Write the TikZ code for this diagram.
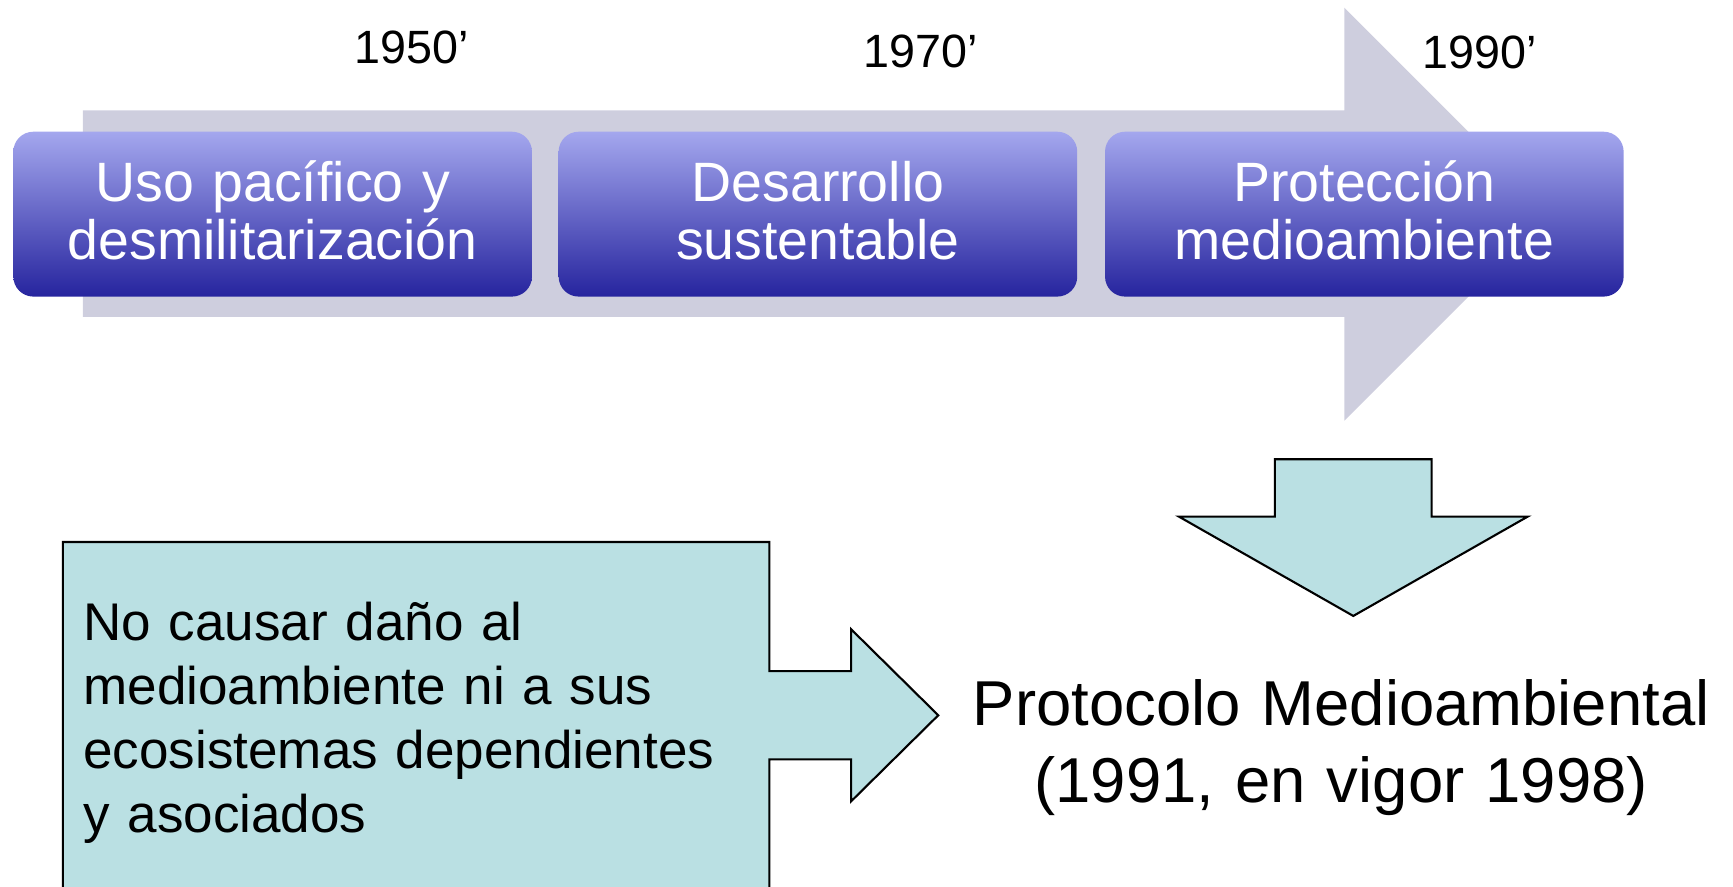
\documentclass[tikz,border=0pt]{standalone}
\usepackage{fontspec}
\setmainfont{Liberation Sans}
\usepackage{tikz}
\usepackage{xcolor}

\definecolor{flechagris}{RGB}{206,206,222}
\definecolor{celeste}{RGB}{186,224,227}
\definecolor{lila}{RGB}{164,167,238}
\definecolor{lilamedio}{RGB}{124,124,210}
\definecolor{azulosc}{RGB}{38,36,158}

\begin{document}
\begin{tikzpicture}[x=0.01104cm,y=-0.01104cm,
  etapa/.style={rounded corners=0.2cm, top color=lila, middle color=lilamedio,
    bottom color=azulosc, minimum width=5.19cm, minimum height=1.65cm,
    text=white, text width=5cm, align=center, inner sep=0pt,
    text height=0.398cm, text depth=0.651cm,
    font=\fontsize{15.8}{16.65}\selectfont},
  anno/.style={anchor=base, inner sep=0pt, font=\fontsize{13.3}{16}\selectfont}]
  \useasboundingbox (0,0) rectangle (1570,803.5);
  \clip (0,0) rectangle (1570,803.5);

  % timeline arrow
  \fill[flechagris] (75,100) -- (1218,100) -- (1218,7) -- (1405,194)
    -- (1218,381) -- (1218,287) -- (75,287) -- cycle;

  \node[etapa] (uso)  at (247,194)  {Uso pacífico y\\desmilitarización};
  \node[etapa] (desa) at (741,194)  {Desarrollo\\sustentable};
  \node[etapa] (prot) at (1236,194) {Protección\\medioambiente};

  \node[anno] (y1950) at (373,57.4)   {1950’};
  \node[anno] (y1970) at (834,60.8)   {1970’};
  \node[anno] (y1990) at (1340.6,62.5) {1990’};

  % down arrow
  \filldraw[fill=celeste, draw=black, line width=0.6pt]
    (1155,416) -- (1297,416) -- (1297,468) -- (1384,468) -- (1226,558)
    -- (1068,468) -- (1155,468) -- cycle;

  % box with arrow
  \filldraw[fill=celeste, draw=black, line width=0.6pt]
    (57,815) -- (57,491) -- (697,491) -- (697,608) -- (771,608) -- (771,570)
    -- (850,648) -- (771,726) -- (771,688) -- (697,688) -- (697,815) -- cycle;

  \node[anchor=north west, inner sep=0pt, text width=6.8cm, align=left,
    text height=0.38cm, font=\fontsize{15.1}{18.2}\selectfont]
    (causar) at (75,545.6)
    {No causar daño al\\medioambiente ni a sus\\ecosistemas dependientes\\y asociados};

  \node[anchor=north, inner sep=0pt, text width=8cm, align=center,
    text height=0.455cm, font=\fontsize{18.06}{21.7}\selectfont]
    (protocolo) at (1215,615.8)
    {Protocolo Medioambiental\\(1991, en vigor 1998)};
\end{tikzpicture}
\end{document}
